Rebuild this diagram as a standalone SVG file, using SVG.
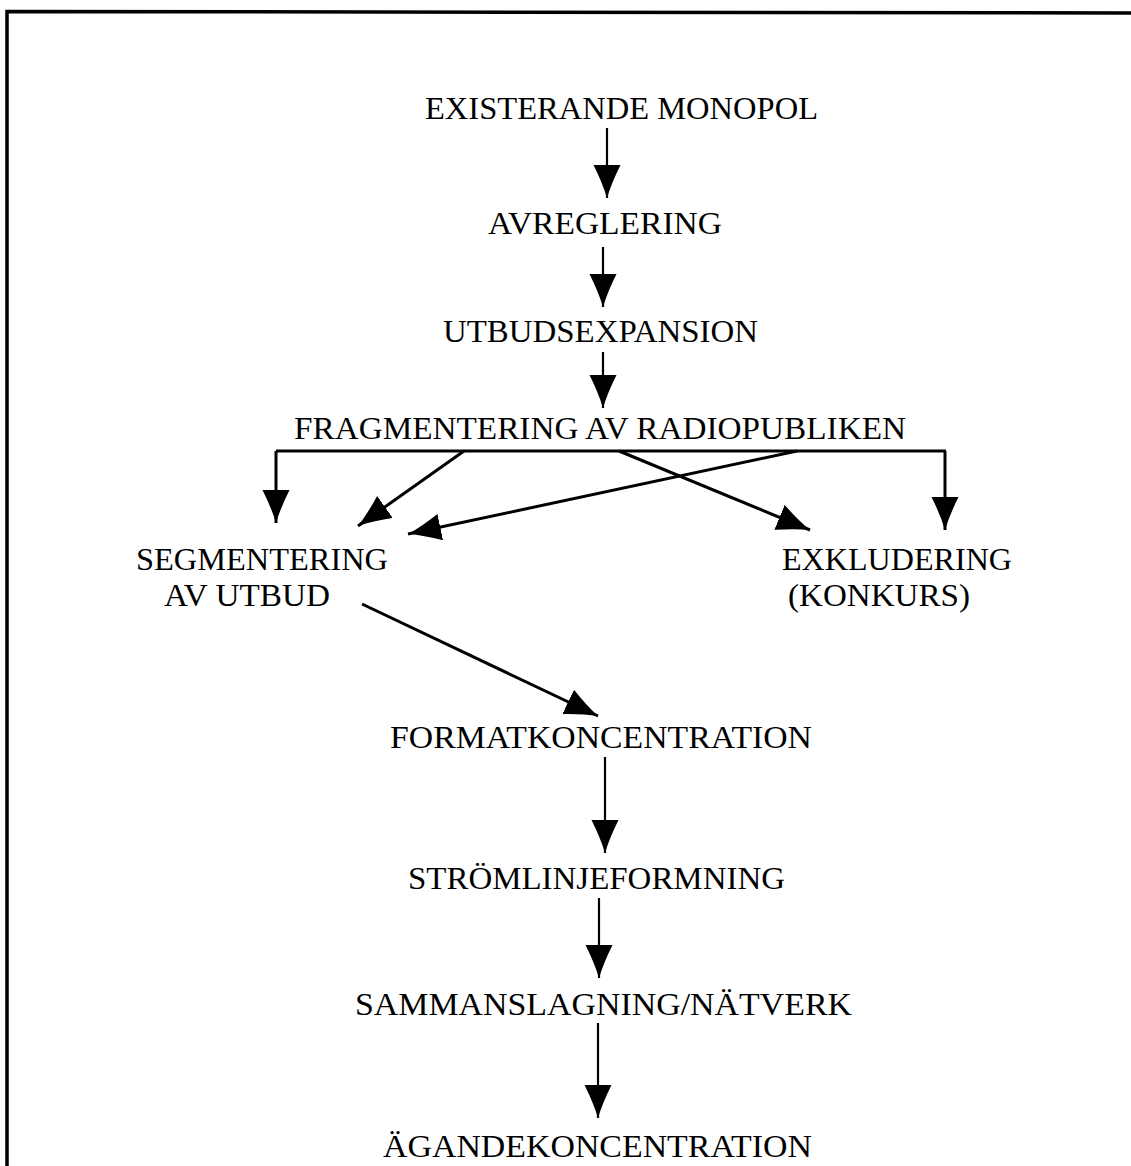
<svg xmlns="http://www.w3.org/2000/svg" width="1131" height="1166" viewBox="0 0 1131 1166">
<defs>
<style>
.lbl{font-family:"Liberation Serif","Times New Roman",serif;font-size:31px;fill:#000}
.frame{fill:none;stroke:#000;stroke-width:3.5}
.c2{fill:none;stroke:#000;stroke-width:2.2;marker-end:url(#ah)}
.c3{fill:none;stroke:#000;stroke-width:3;marker-end:url(#ah)}
.bar{fill:none;stroke:#000;stroke-width:3}
</style>
<marker id="ah" markerUnits="userSpaceOnUse" markerWidth="36" markerHeight="30" refX="33" refY="13.5" orient="auto" viewBox="0 0 36 30">
<path d="M0,0 Q18,9 33,13.5 Q18,18 0,27 Z" fill="#000"/>
</marker>
</defs>
<rect width="1131" height="1166" fill="#fff"/>
<g id="frame">
<path class="frame" d="M7,1166 L7,11.5 L1131,13"/>
</g>
<g id="connectors">
<line class="c2" x1="607" y1="128" x2="607" y2="198"/>
<line class="c2" x1="603" y1="247" x2="603" y2="307"/>
<line class="c2" x1="603" y1="352" x2="603" y2="408"/>
<line class="bar" x1="276" y1="451" x2="946" y2="451"/>
<line class="c3" x1="276" y1="451" x2="276" y2="523"/>
<line class="c3" x1="464" y1="451" x2="358" y2="526"/>
<line class="c3" x1="797" y1="451" x2="408" y2="534"/>
<line class="c3" x1="619" y1="451" x2="810" y2="530"/>
<line class="c3" x1="945" y1="451" x2="945" y2="530"/>
<line class="c3" x1="362" y1="604" x2="598" y2="716"/>
<line class="c2" x1="605" y1="757" x2="605" y2="853"/>
<line class="c2" x1="599" y1="898" x2="599" y2="978"/>
<line class="c2" x1="598" y1="1023" x2="598" y2="1118"/>
</g>
<g id="n1"><text class="lbl" x="425" y="119" textLength="393" lengthAdjust="spacingAndGlyphs">EXISTERANDE MONOPOL</text></g>
<g id="n2"><text class="lbl" x="488" y="234" textLength="234" lengthAdjust="spacingAndGlyphs">AVREGLERING</text></g>
<g id="n3"><text class="lbl" x="443" y="342" textLength="315" lengthAdjust="spacingAndGlyphs">UTBUDSEXPANSION</text></g>
<g id="n4"><text class="lbl" x="294" y="439" textLength="612" lengthAdjust="spacingAndGlyphs">FRAGMENTERING AV RADIOPUBLIKEN</text></g>
<g id="n5">
<text class="lbl" x="136" y="570" textLength="252" lengthAdjust="spacingAndGlyphs">SEGMENTERING</text>
<text class="lbl" x="164" y="606" textLength="166" lengthAdjust="spacingAndGlyphs">AV UTBUD</text>
</g>
<g id="n6">
<text class="lbl" x="782" y="570" textLength="230" lengthAdjust="spacingAndGlyphs">EXKLUDERING</text>
<text class="lbl" x="788" y="606" textLength="182" lengthAdjust="spacingAndGlyphs">(KONKURS)</text>
</g>
<g id="n7"><text class="lbl" x="390" y="748" textLength="422" lengthAdjust="spacingAndGlyphs">FORMATKONCENTRATION</text></g>
<g id="n8"><text class="lbl" x="408" y="889" textLength="377" lengthAdjust="spacingAndGlyphs">STRÖMLINJEFORMNING</text></g>
<g id="n9"><text class="lbl" x="355" y="1015" textLength="497" lengthAdjust="spacingAndGlyphs">SAMMANSLAGNING/NÄTVERK</text></g>
<g id="n10"><text class="lbl" x="383" y="1157" textLength="429" lengthAdjust="spacingAndGlyphs">ÄGANDEKONCENTRATION</text></g>
</svg>
